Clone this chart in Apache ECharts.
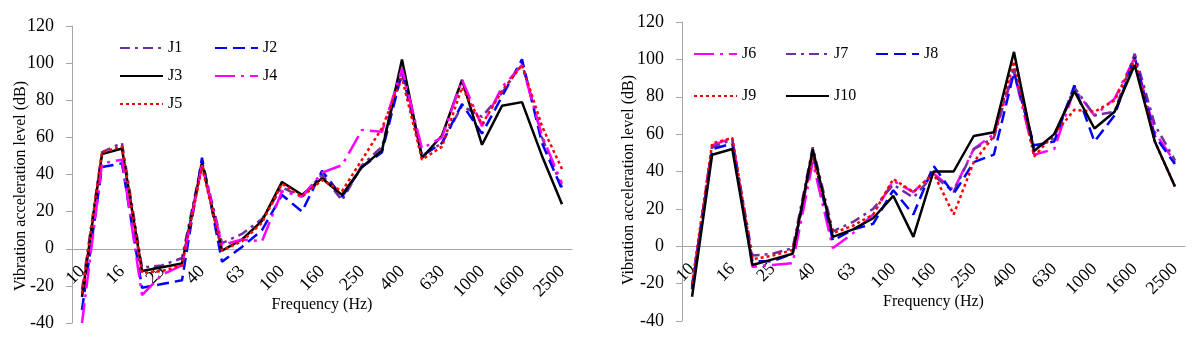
<!DOCTYPE html>
<html>
<head>
<meta charset="utf-8">
<script src="https://cdn.jsdelivr.net/npm/echarts@6/dist/echarts.min.js"></script>
<style>
  html, body { margin: 0; padding: 0; background: #fff; }
  #chart { width: 1199px; height: 342px; }
</style>
</head>
<body>
<div id="chart"></div>
<script>
// 1/3 octave band centre frequencies (Hz)
var freqs = ['10','12.5','16','20','25','31.5','40','50','63','80','100','125','160','200','250','315','400','500','630','800','1000','1250','1600','2000','2500'];

// left panel
var j1 = [-22, 52, 57, -10, -9, -5, 47, 3, 8, 16, 33, 28, 40, 26, 45, 55, 97, 50, 57, 77, 71, 84, 100, 60, 33];
var j2 = [-33, 44, 46, -21, -19, -17, 49, -7, 1, 10, 29, 20, 42, 28, 44, 52, 95, 50, 57, 78, 62, 82, 102, 57, 32];
var j3 = [-26, 51, 54, -12, -10, -8, 46, -1, 5, 15, 36, 29, 38, 29, 44, 53, 102, 49, 61, 91, 56, 77, 79, 50, 24];
var j4 = [-40, 46, 48, -25, -14, -9, 45, 2, 5, 4, 31, 28, 41, 45, 64, 63, 97, 54, 60, 91, 66, 87, 99, 61, 35];
var j5 = [-24, 52, 55, -13, -12, -9, 44, -1, 4, 14, 35, 28, 37, 31, 48, 65, 92, 48, 55, 87, 67, 85, 99, 66, 43];

// right panel
var j6 = [-22, 54, 58, -11, -10, -9, 45, -1, 7, 17, 35, 29, 39, 30, 52, 60, 93, 49, 52, 84, 70, 79, 101, 61, 45];
var j7 = [-21, 53, 57, -5, -4, -1, 53, 8, 13, 20, 33, 26, 38, 29, 52, 58, 95, 52, 58, 85, 70, 72, 103, 65, 46];
var j8 = [-23, 52, 55, -8, -8, -4, 50, 3, 9, 12, 30, 17, 43, 28, 45, 49, 93, 54, 56, 86, 56, 70, 101, 59, 44];
var j9 = [-20, 55, 58, -7, -5, -2, 48, 7, 11, 17, 36, 29, 39, 17, 45, 59, 99, 48, 60, 73, 72, 78, 100, 56, 32];
var j10 = [-27, 49, 52, -10, -7, -4, 52, 5, 9, 15, 27, 5, 40, 40, 59, 61, 104, 51, 60, 83, 63, 72, 97, 56, 32];

var yMin = -40, yMax = 120;

var serif = '"Times New Roman", "Liberation Serif", serif';
var grey = '#a6a6a6';

var styles = {
  dashDot:     { color: '#7030a0', type: [10, 5, 3, 5] },
  dashed:      { color: '#0000ff', type: [12, 6] },
  solid:       { color: '#000000', type: 'solid' },
  longDashDot: { color: '#ff00ff', type: [20, 6, 3, 6] },
  dotted:      { color: '#ff0000', type: [3, 3] }
};

var grids = [
  { left: 72, top: 26, width: 500, height: 297, outerBoundsMode: 'none', containLabel: false },
  { left: 682, top: 22, width: 503, height: 299, outerBoundsMode: 'none', containLabel: false }
];

function line(name, data, st, idx) {
  return {
    name: name,
    type: 'line',
    xAxisIndex: idx,
    yAxisIndex: idx,
    data: data,
    symbol: 'none',
    itemStyle: { color: st.color },
    lineStyle: { color: st.color, type: st.type, width: 2.5 }
  };
}

function legendItem(name, left, top) {
  return {
    data: [name],
    left: left,
    top: top,
    itemWidth: 43,
    itemHeight: 14,
    selectedMode: false,
    itemStyle: { opacity: 0 },
    textStyle: { fontFamily: serif, fontSize: 16, color: '#000' }
  };
}

// category axis drawn along the zero line: keep it at the grid bottom and pull it up by offset
function xAx(idx) {
  var h = grids[idx].height;
  var up = h * (0 - yMin) / (yMax - yMin);
  return {
    type: 'category',
    gridIndex: idx,
    data: freqs,
    boundaryGap: true,
    position: 'bottom',
    offset: -up,
    axisLine: { onZero: false, lineStyle: { color: grey, width: 1 } },
    axisTick: { show: false },
    axisLabel: { interval: 1, rotate: 45, margin: 20, fontFamily: serif, fontSize: 18, color: '#000' },
    name: 'Frequency (Hz)',
    nameLocation: 'middle',
    nameGap: 48,
    nameMoveOverlap: false,
    nameTextStyle: { fontFamily: serif, fontSize: 16, color: '#000' }
  };
}

function yAx(idx) {
  return {
    type: 'value',
    gridIndex: idx,
    min: yMin,
    max: yMax,
    interval: 20,
    axisLine: { show: true, lineStyle: { color: grey, width: 1 } },
    axisTick: { show: true, length: 6, lineStyle: { color: grey } },
    splitLine: { show: false },
    axisLabel: { margin: 18, fontFamily: serif, fontSize: 18, color: '#000' }
  };
}

var chart = echarts.init(document.getElementById('chart'));
chart.setOption({
  animation: false,
  backgroundColor: '#fff',
  grid: grids,
  xAxis: [xAx(0), xAx(1)],
  yAxis: [yAx(0), yAx(1)],
  legend: [
    legendItem('J1', 114, 35), legendItem('J2', 209, 35),
    legendItem('J3', 114, 63), legendItem('J4', 209, 63),
    legendItem('J5', 114, 91),
    legendItem('J6', 688, 41), legendItem('J7', 780, 41), legendItem('J8', 870, 41),
    legendItem('J9', 688, 83), legendItem('J10', 780, 83)
  ],
  graphic: [
    { type: 'text', x: 21, y: 186, rotation: Math.PI / 2,
      style: { text: 'Vibration acceleration level (dB)', font: '16px ' + serif, fill: '#000', align: 'center', verticalAlign: 'middle' } },
    { type: 'text', x: 629, y: 180, rotation: Math.PI / 2,
      style: { text: 'Vibration acceleration level (dB)', font: '16px ' + serif, fill: '#000', align: 'center', verticalAlign: 'middle' } }
  ],
  series: [
    line('J1', j1, styles.dashDot, 0),
    line('J2', j2, styles.dashed, 0),
    line('J3', j3, styles.solid, 0),
    line('J4', j4, styles.longDashDot, 0),
    line('J5', j5, styles.dotted, 0),
    line('J6', j6, styles.longDashDot, 1),
    line('J7', j7, styles.dashDot, 1),
    line('J8', j8, styles.dashed, 1),
    line('J9', j9, styles.dotted, 1),
    line('J10', j10, styles.solid, 1)
  ]
});
</script>
</body>
</html>
